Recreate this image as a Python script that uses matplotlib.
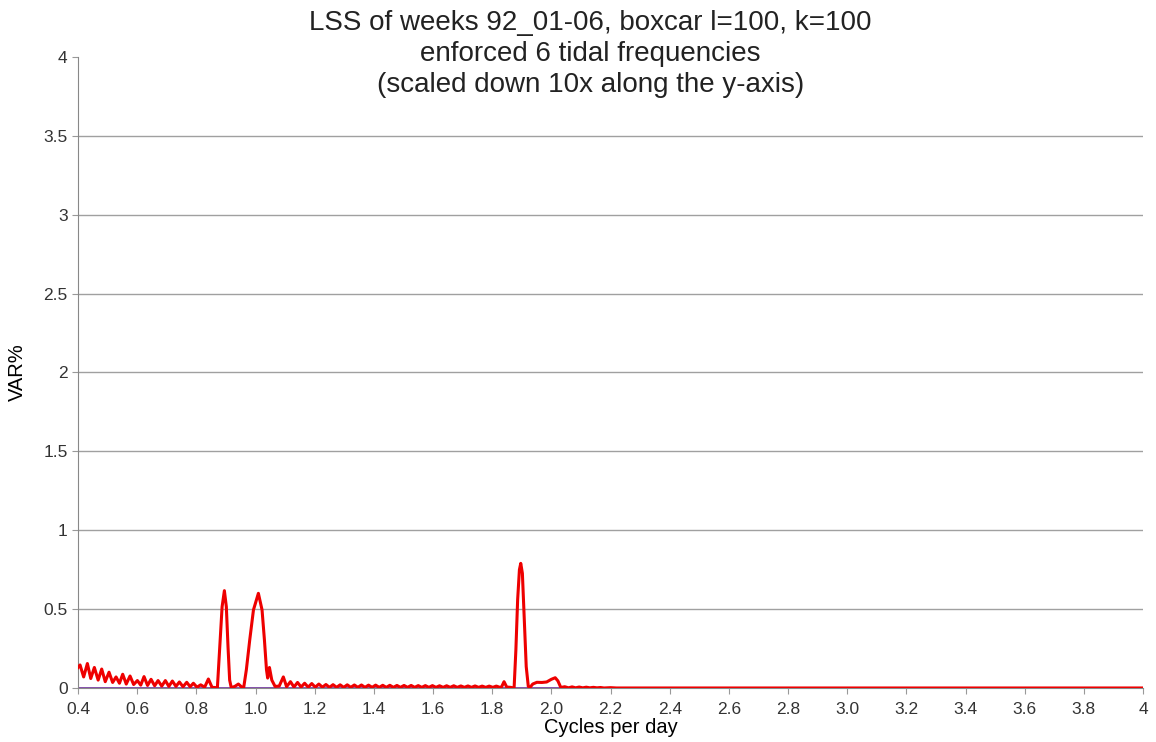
import matplotlib.pyplot as plt

plt.rcParams['font.family'] = ['Liberation Sans', 'DejaVu Sans']

# spectrum (cycles per day, VAR% / 10)
freq = [0.400, 0.4068, 0.419, 0.4316, 0.443, 0.4552, 0.468, 0.4800, 0.492, 0.5048,
        0.517, 0.5285, 0.540, 0.5510, 0.563, 0.5758, 0.588, 0.6006, 0.612, 0.6231,
        0.635, 0.6468, 0.659, 0.6705, 0.683, 0.6952, 0.707, 0.7189, 0.731, 0.7426,
        0.755, 0.7674, 0.779, 0.7899, 0.802, 0.8147, 0.828, 0.8406, 0.853, 0.863,
        0.871, 0.879, 0.887, 0.8947, 0.9013, 0.907, 0.9125, 0.918, 0.930, 0.942,
        0.952, 0.960, 0.969, 0.9805, 0.993, 1.0096, 1.022, 1.030, 1.037, 1.041,
        1.047, 1.055, 1.066, 1.080, 1.094, 1.105, 1.118, 1.130, 1.142, 1.154,
        1.166, 1.178, 1.190, 1.202, 1.214, 1.226, 1.238, 1.250, 1.262, 1.274,
        1.286, 1.298, 1.310, 1.322, 1.334, 1.346, 1.358, 1.370, 1.382, 1.394,
        1.406, 1.418, 1.430, 1.442, 1.454, 1.466, 1.478, 1.490, 1.502, 1.514,
        1.526, 1.538, 1.550, 1.562, 1.574, 1.586, 1.598, 1.610, 1.622, 1.634,
        1.646, 1.658, 1.670, 1.682, 1.694, 1.706, 1.718, 1.730, 1.742, 1.754,
        1.766, 1.778, 1.790, 1.802, 1.814, 1.826, 1.832, 1.840, 1.849, 1.862,
        1.874, 1.880, 1.886, 1.892, 1.8965, 1.902, 1.908, 1.915, 1.922, 1.928,
        1.937, 1.951, 1.968, 1.984, 2.000, 2.013, 2.022, 2.032, 2.045, 2.058,
        2.070, 2.082, 2.094, 2.106, 2.118, 2.130, 2.142, 2.154, 2.166, 2.178,
        2.200, 2.220, 4.000]
var = [0.130, 0.146, 0.070, 0.155, 0.060, 0.130, 0.050, 0.120, 0.040, 0.100,
       0.035, 0.070, 0.030, 0.087, 0.025, 0.076, 0.022, 0.047, 0.018, 0.072,
       0.016, 0.055, 0.014, 0.047, 0.012, 0.047, 0.010, 0.044, 0.010, 0.038,
       0.008, 0.036, 0.008, 0.030, 0.005, 0.020, 0.005, 0.057, 0.004, 0.003,
       0.000, 0.260, 0.515, 0.617, 0.515, 0.260, 0.050, 0.002, 0.010, 0.025,
       0.008, 0.003, 0.116, 0.306, 0.495, 0.600, 0.495, 0.306, 0.116, 0.063,
       0.130, 0.050, 0.010, 0.012, 0.070, 0.008, 0.040, 0.006, 0.035, 0.006,
       0.030, 0.005, 0.028, 0.005, 0.025, 0.005, 0.022, 0.004, 0.021, 0.004,
       0.020, 0.004, 0.020, 0.004, 0.019, 0.004, 0.019, 0.004, 0.018, 0.004,
       0.018, 0.004, 0.017, 0.004, 0.017, 0.004, 0.016, 0.004, 0.016, 0.004,
       0.016, 0.004, 0.015, 0.004, 0.015, 0.004, 0.015, 0.004, 0.014, 0.004,
       0.014, 0.004, 0.014, 0.004, 0.013, 0.004, 0.013, 0.004, 0.013, 0.004,
       0.012, 0.004, 0.012, 0.004, 0.012, 0.004, 0.008, 0.040, 0.006, 0.004,
       0.000, 0.240, 0.560, 0.750, 0.790, 0.727, 0.450, 0.135, 0.010, 0.004,
       0.025, 0.036, 0.035, 0.038, 0.055, 0.065, 0.045, 0.003, 0.008, 0.001,
       0.007, 0.001, 0.006, 0.001, 0.005, 0.001, 0.004, 0.001, 0.003, 0.000,
       0.002, 0.000, 0.000]

base_x = [0.4, 4.0]
base_y = [0.0, 0.0]

xticks = [0.4, 0.6, 0.8, 1.0, 1.2, 1.4, 1.6, 1.8, 2.0, 2.2, 2.4, 2.6, 2.8,
          3.0, 3.2, 3.4, 3.6, 3.8, 4.0]
xlabels = ['0.4', '0.6', '0.8', '1.0', '1.2', '1.4', '1.6', '1.8', '2.0', '2.2',
           '2.4', '2.6', '2.8', '3.0', '3.2', '3.4', '3.6', '3.8', '4']
yticks = [0, 0.5, 1, 1.5, 2, 2.5, 3, 3.5, 4]
ylabels = ['0', '0.5', '1', '1.5', '2', '2.5', '3', '3.5', '4']

fig = plt.figure(figsize=(11.56, 7.42), dpi=100)
ax = fig.add_axes([0.0675, 0.0728, 0.9213, 0.8504])

for yv in yticks[1:-1]:
    ax.axhline(yv, color='#a0a0a0', linewidth=1.0, zorder=1)

ax.plot(base_x, base_y, color='#7030a0', linewidth=1.2, zorder=2)
ax.plot(freq, var, color='#ee0000', linewidth=2.2, zorder=3,
        solid_joinstyle='round')

ax.set_xlim(0.4, 4.0)
ax.set_ylim(0, 4)
ax.set_xticks(xticks)
ax.set_xticklabels(xlabels)
ax.set_yticks(yticks)
ax.set_yticklabels(ylabels)
ax.tick_params(axis='both', labelsize=12.5, colors='#333333', length=4,
               color='#999999')
ax.tick_params(axis='x', pad=6)

for s in ['top', 'right']:
    ax.spines[s].set_visible(False)
ax.spines['left'].set_color('#888888')
ax.spines['bottom'].set_color('#888888')

ax.set_xlabel('Cycles per day', fontsize=14.5, labelpad=1)
ax.set_ylabel('VAR%', fontsize=14.5, labelpad=12)

fig.text(0.511, 0.986,
         'LSS of weeks 92_01-06, boxcar l=100, k=100\nenforced 6 tidal frequencies\n(scaled down 10x along the y-axis)',
         ha='center', va='top', fontsize=20, color='#222222', linespacing=1.24)

plt.savefig('out.png', dpi=100)
